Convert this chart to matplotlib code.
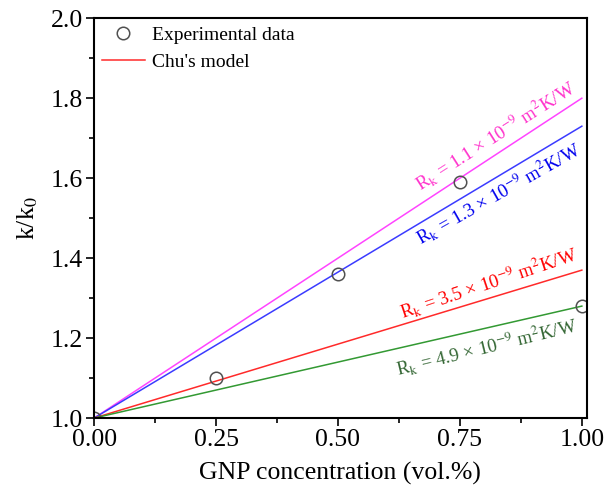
import matplotlib.pyplot as plt
from matplotlib.ticker import MultipleLocator

plt.rcParams['font.family'] = ['Liberation Serif', 'DejaVu Serif']
plt.rcParams['mathtext.fontset'] = 'stix'

# experimental data
exp_x = [0.0, 0.25, 0.50, 0.75, 1.00]
exp_y = [1.00, 1.10, 1.36, 1.59, 1.28]

# Chu's model lines (start, end)
model_x = [0.0, 1.0]
model_rk = ['1.1', '1.3', '3.5', '4.9']
model_end = [1.80, 1.73, 1.37, 1.28]
line_colors = ['#ff44ff', '#3b3bff', '#ff2a2a', '#339933']
text_colors = ['#ff33cc', '#0000ee', '#ff0000', '#336633']
text_pos = [(0.822, 1.708), (0.828, 1.562), (0.808, 1.338), (0.805, 1.178)]
text_rot = [32.5, 29.5, 18.5, 13.8]

fig = plt.figure(figsize=(6.15, 4.93), dpi=100)
ax = fig.add_axes([0.153, 0.152, 0.801, 0.811])

for end, c in zip(model_end, line_colors):
    ax.plot(model_x, [1.0, end], color=c, lw=1.1)

ax.plot(exp_x, exp_y, 'o', mfc='none', mec='#505050', ms=9, mew=1.1)

for rk, (tx, ty), rot, c in zip(model_rk, text_pos, text_rot, text_colors):
    ax.text(tx, ty, r'R$_\mathrm{k}$ = ' + rk + r' × 10$^{\mathrm{-9}}$ m$^\mathrm{2}$K/W',
            color=c, fontsize=13.6, rotation=rot, ha='center', va='center',
            rotation_mode='anchor')

# legend
ax.plot([], [], 'o', mfc='none', mec='#505050', ms=9, mew=1.1, label='Experimental data')
ax.plot([], [], color='#ff2a2a', lw=1.1, label="Chu's model")
h, l = ax.get_legend_handles_labels()
ax.legend(h[-2:], l[-2:], loc='upper left', frameon=False, fontsize=14,
          handlelength=2.2, handletextpad=0.4, borderaxespad=0.0, labelspacing=0.5)

ax.set_xlim(0, 1.01)
ax.set_ylim(1.0, 2.0)
ax.xaxis.set_minor_locator(MultipleLocator(0.125))
ax.yaxis.set_minor_locator(MultipleLocator(0.1))
ax.set_xticks([0, 0.25, 0.5, 0.75, 1.0], ['0.00', '0.25', '0.50', '0.75', '1.00'])
ax.set_yticks([1.0, 1.2, 1.4, 1.6, 1.8, 2.0], ['1.0', '1.2', '1.4', '1.6', '1.8', '2.0'])
ax.tick_params(which='both', direction='out', width=1.2, labelsize=18.5, pad=2)
ax.tick_params(which='major', length=6)
ax.tick_params(which='minor', length=3.5)
for s in ax.spines.values():
    s.set_linewidth(1.5)

ax.set_xlabel('GNP concentration (vol.%)', fontsize=18.5, labelpad=8)
ax.set_ylabel(r'k/k$_\mathrm{0}$', fontsize=18.5, labelpad=8)

plt.savefig('out.png', dpi=100)
